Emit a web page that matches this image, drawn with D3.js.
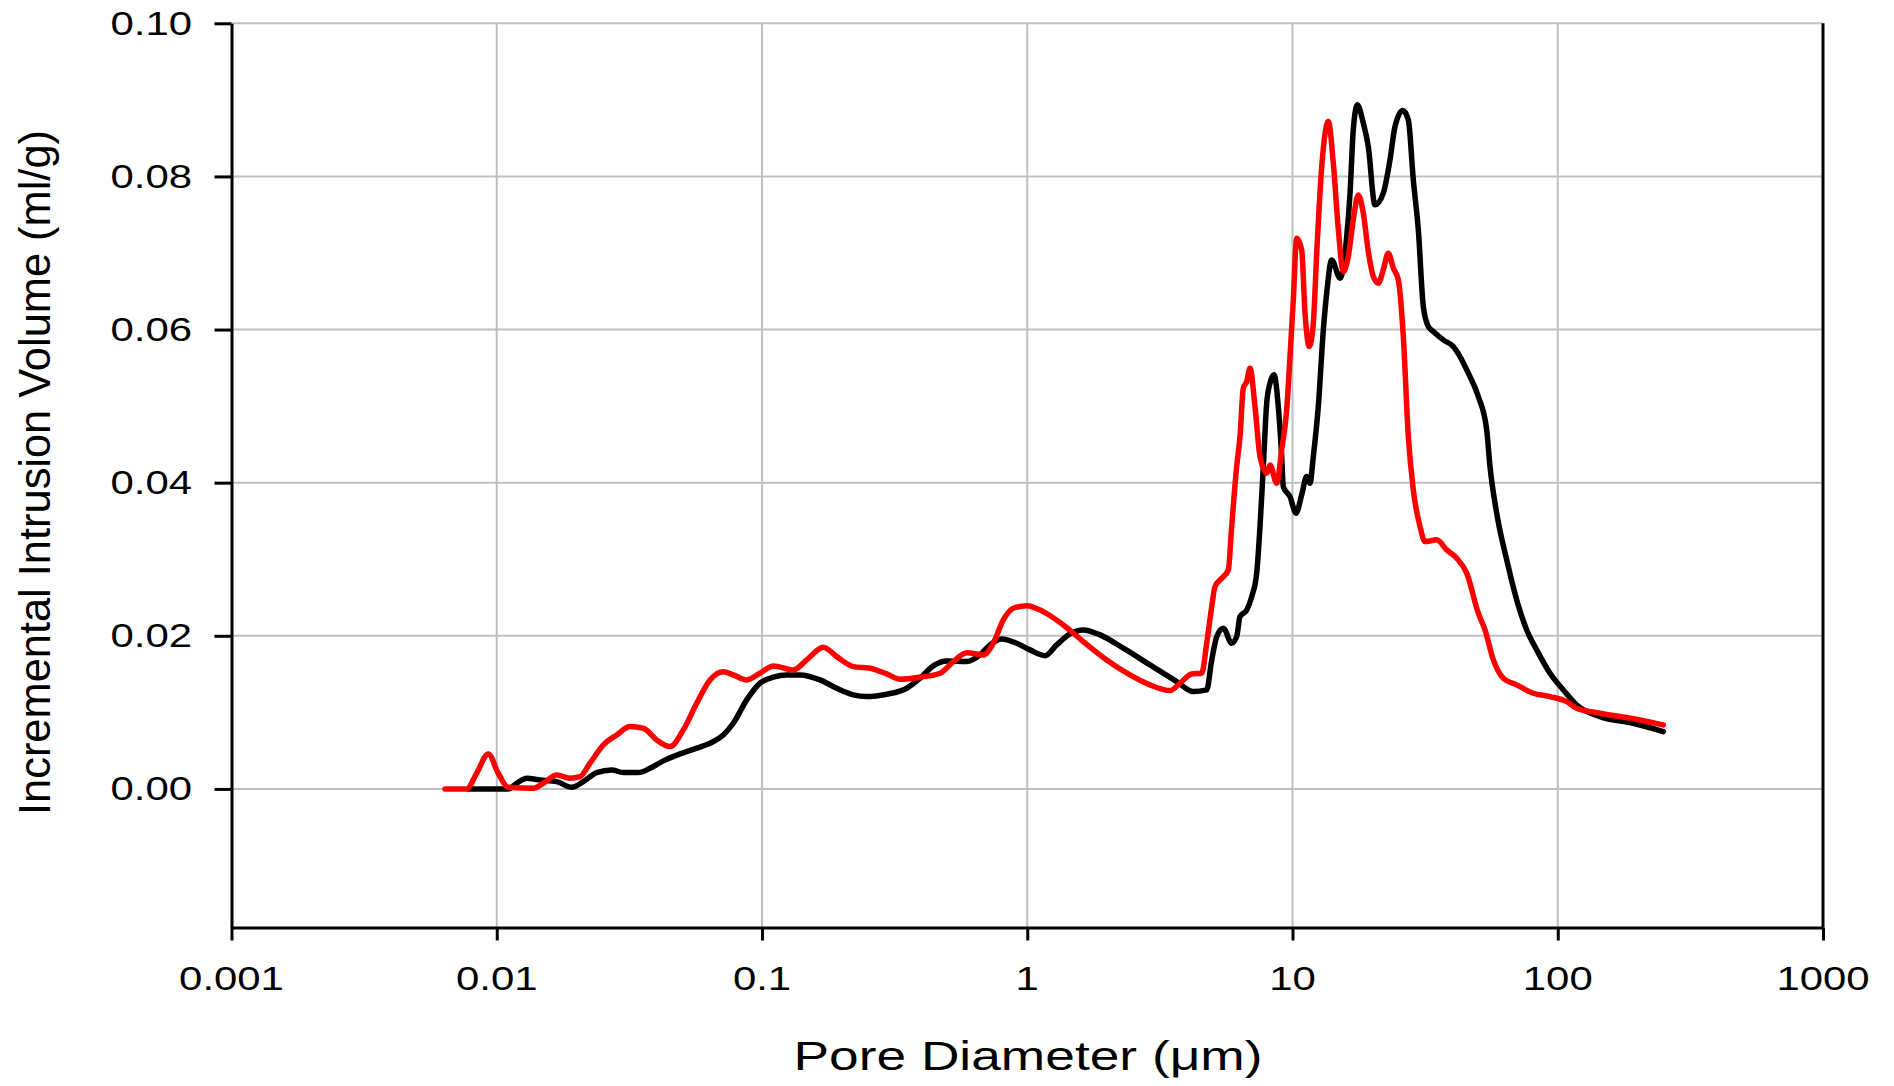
<!DOCTYPE html>
<html><head><meta charset="utf-8">
<script src="https://cdn.jsdelivr.net/npm/d3@7"></script>
<style>html,body{margin:0;padding:0;background:#fff;} svg{display:block;}</style>
</head><body><svg id="chart" width="1894" height="1086"></svg>
<script>
// ---- data (pore diameter in µm, incremental intrusion volume in ml/g) ----
const blackDiameter = [0.00781,0.01105,0.01189,0.01297,0.01456,0.01683,0.01917,0.02120,0.02381,0.02713,
  0.03000,0.03417,0.03783,0.04245,0.04908,0.05673,0.06553,0.07145,0.07793,0.08757,
  0.09829,0.1103,0.1239,0.1391,0.1655,0.1912,0.2209,0.2481,0.2952,0.3512,
  0.3942,0.4423,0.4970,0.5910,0.6636,0.7237,0.8013,0.9124,1.024,1.166,
  1.291,1.449,1.627,1.881,2.302,2.903,3.660,4.227,4.748,4.960,
  5.180,5.485,5.898,6.159,6.340,6.720,7.019,7.328,7.542,7.761,
  7.993,8.226,8.517,8.840,9.104,9.232,9.786,10.31,10.83,11.31,
  11.64,11.98,12.51,13.07,13.46,14.05,15.11,16.01,16.48,16.95,
  17.55,18.49,19.31,20.46,21.99,23.31,24.35,26.03,27.33,28.54,
  29.81,31.13,32.51,33.95,37.03,40.38,42.80,46.01,50.18,53.97,
  55.54,58.87,64.22,70.03,76.38,83.30,93.50,105.0,117.9,144.3,
  192.7,250.0];
const blackVolume = [0,0,0.00074,0.00140,0.00118,0.00095,0.00022,0.00095,0.00213,0.00248,
  0.00213,0.00213,0.00270,0.00366,0.00457,0.00532,0.00618,0.00705,0.00858,0.01163,
  0.01381,0.01459,0.01489,0.01489,0.01424,0.01315,0.01228,0.01206,0.01237,0.01315,
  0.01446,0.01607,0.01672,0.01663,0.01750,0.01881,0.01959,0.01903,0.01816,0.01741,
  0.01881,0.02025,0.02077,0.02012,0.01838,0.01620,0.01402,0.01271,0.01293,0.01685,
  0.01989,0.02099,0.01903,0.01989,0.02251,0.02338,0.02512,0.02818,0.03426,0.04210,
  0.05038,0.05300,0.05408,0.04994,0.04341,0.03949,0.03818,0.03601,0.03841,0.04080,
  0.03993,0.04341,0.04994,0.05996,0.06479,0.06910,0.06671,0.07215,0.07782,0.08609,
  0.08935,0.08696,0.08390,0.07629,0.07782,0.08217,0.08652,0.08861,0.08739,0.07955,
  0.07302,0.06300,0.06039,0.05974,0.05865,0.05778,0.05647,0.05430,0.05125,0.04690,
  0.04210,0.03601,0.02991,0.02469,0.02077,0.01816,0.01511,0.01293,0.01097,0.00944,
  0.00858,0.00749];

const redDiameter = [0.00638,0.00770,0.00840,0.00929,0.01013,0.01105,0.01373,0.01498,0.01683,0.01889,
  0.02061,0.02247,0.02522,0.02833,0.03180,0.03569,0.04009,0.04499,0.05050,0.05673,
  0.06368,0.07145,0.07793,0.08757,0.09829,0.1103,0.1312,0.1474,0.1703,0.1912,
  0.2209,0.2553,0.2952,0.3314,0.3942,0.4690,0.5263,0.5910,0.6829,0.7447,
  0.8124,0.8857,0.9952,1.149,1.367,1.627,1.993,2.440,2.903,3.453,
  3.766,4.169,4.547,4.748,4.960,5.104,5.409,5.728,5.898,6.159,
  6.340,6.525,6.720,6.916,7.221,7.542,7.993,8.226,8.717,9.104,
  9.508,9.786,10.07,10.37,10.83,11.15,11.57,11.98,12.34,12.89,
  13.65,14.25,14.89,15.54,16.23,16.95,17.70,18.49,19.31,20.16,
  21.06,21.99,22.97,23.99,25.06,26.17,27.33,28.54,30.25,31.59,
  34.97,38.14,41.59,45.37,50.18,53.17,57.17,62.35,70.03,80.88,
  93.50,108.1,117.9,144.3,204.2,250.0];
const redVolume = [0,0,0.00205,0.00457,0.00205,0.00022,0.00009,0.00074,0.00183,0.00140,
  0.00161,0.00336,0.00575,0.00705,0.00814,0.00793,0.00640,0.00553,0.00771,0.01119,
  0.01424,0.01532,0.01489,0.01424,0.01511,0.01607,0.01554,0.01685,0.01851,0.01728,
  0.01598,0.01577,0.01502,0.01433,0.01459,0.01511,0.01663,0.01780,0.01750,0.01903,
  0.02208,0.02360,0.02394,0.02316,0.02142,0.01924,0.01685,0.01489,0.01359,0.01284,
  0.01381,0.01502,0.01511,0.01903,0.02381,0.02643,0.02752,0.02861,0.03426,0.04210,
  0.04602,0.05234,0.05321,0.05496,0.04994,0.04341,0.04124,0.04232,0.03993,0.04428,
  0.04951,0.05647,0.06388,0.07194,0.07041,0.06214,0.05778,0.06083,0.06998,0.08129,
  0.08717,0.08174,0.07302,0.06757,0.06953,0.07433,0.07759,0.07520,0.07019,0.06692,
  0.06606,0.06780,0.06998,0.06802,0.06649,0.05908,0.04602,0.03906,0.03426,0.03231,
  0.03253,0.03122,0.03014,0.02818,0.02295,0.02077,0.01685,0.01446,0.01359,0.01250,
  0.01206,0.01140,0.01054,0.00989,0.00901,0.00836];

const xTicks = [0.001,0.01,0.1,1,10,100,1000];
const xTickLabels = ["0.001","0.01","0.1","1","10","100","1000"];
const yTicks = [0,0.02,0.04,0.06,0.08,0.10];
const yTickLabels = ["0.00","0.02","0.04","0.06","0.08","0.10"];
const xTitle = "Pore Diameter (\u03bcm)";
const yTitle = "Incremental Intrusion Volume (ml/g)";

// ---- layout ----
const plot = {left:231.5, right:1823, top:23.3, bottom:927.5};
const FONT = "'Liberation Sans', Arial, Helvetica, sans-serif";
const svg = d3.select("#chart");
svg.append("rect").attr("width",1894).attr("height",1086).attr("fill","#fff");

const x = d3.scaleLog().domain([0.001,1000]).range([plot.left, plot.right]);
const y = d3.scaleLinear().domain([-0.0181,0.10]).range([plot.bottom, plot.top]);

// gridlines
const grid = svg.append("g").attr("stroke","#c0c0c0").attr("stroke-width",2);
grid.selectAll("line.h").data(yTicks).join("line").attr("class","h")
  .attr("x1",plot.left).attr("x2",plot.right)
  .attr("y1",d=>y(d)).attr("y2",d=>y(d));
grid.selectAll("line.v").data(xTicks.slice(1,-1)).join("line").attr("class","v")
  .attr("x1",d=>x(d)).attr("x2",d=>x(d))
  .attr("y1",plot.top).attr("y2",plot.bottom);

// series
const mkLine = (xs) => d3.line().x((d,i)=>x(xs[i])).y(d=>y(d)).curve(d3.curveMonotoneX);
svg.append("path").datum(blackVolume).attr("d",mkLine(blackDiameter))
  .attr("fill","none").attr("stroke","#000").attr("stroke-width",5.5)
  .attr("stroke-linejoin","round").attr("stroke-linecap","round");
svg.append("path").datum(redVolume).attr("d",mkLine(redDiameter))
  .attr("fill","none").attr("stroke","#ff0000").attr("stroke-width",5.5)
  .attr("stroke-linejoin","round").attr("stroke-linecap","round");

// axes
const yAxis = svg.append("g").attr("transform",`translate(${plot.left},0)`)
  .call(d3.axisLeft(y).tickValues(yTicks).tickSize(17).tickSizeOuter(0).tickFormat(""));
const xAxis = svg.append("g").attr("transform",`translate(0,${plot.bottom})`)
  .call(d3.axisBottom(x).tickValues(xTicks).tickSize(13).tickSizeOuter(0).tickFormat(""));
[yAxis,xAxis].forEach(a=>{
  a.selectAll("path.domain").attr("stroke","#000").attr("stroke-width",3);
  a.selectAll(".tick line").attr("stroke","#000").attr("stroke-width",3);
});
svg.append("line").attr("x1",plot.right).attr("x2",plot.right)
  .attr("y1",plot.top).attr("y2",plot.bottom).attr("stroke","#000").attr("stroke-width",3);

// tick labels
const SX = 1.27;
svg.append("g").selectAll("g").data(yTicks).join("g")
  .attr("transform",d=>`translate(192,${y(d)+11.5}) scale(${SX},1)`)
  .append("text").attr("text-anchor","end")
  .attr("font-family",FONT).attr("font-size",33).attr("fill","#000")
  .text((d,i)=>yTickLabels[i]);
svg.append("g").selectAll("g").data(xTicks).join("g")
  .attr("transform",d=>`translate(${x(d)},990) scale(${SX},1)`)
  .append("text").attr("text-anchor","middle")
  .attr("font-family",FONT).attr("font-size",33).attr("fill","#000")
  .text((d,i)=>xTickLabels[i]);

// axis titles
svg.append("text").attr("x",1028).attr("y",1070).attr("text-anchor","middle")
  .attr("font-family",FONT).attr("font-size",40).attr("fill","#000")
  .attr("textLength",469).attr("lengthAdjust","spacingAndGlyphs")
  .text(xTitle);
svg.append("text").attr("transform","translate(50,472.5) rotate(-90)")
  .attr("text-anchor","middle")
  .attr("font-family",FONT).attr("font-size",45).attr("fill","#000")
  .attr("textLength",685).attr("lengthAdjust","spacingAndGlyphs")
  .text(yTitle);
</script></body></html>
